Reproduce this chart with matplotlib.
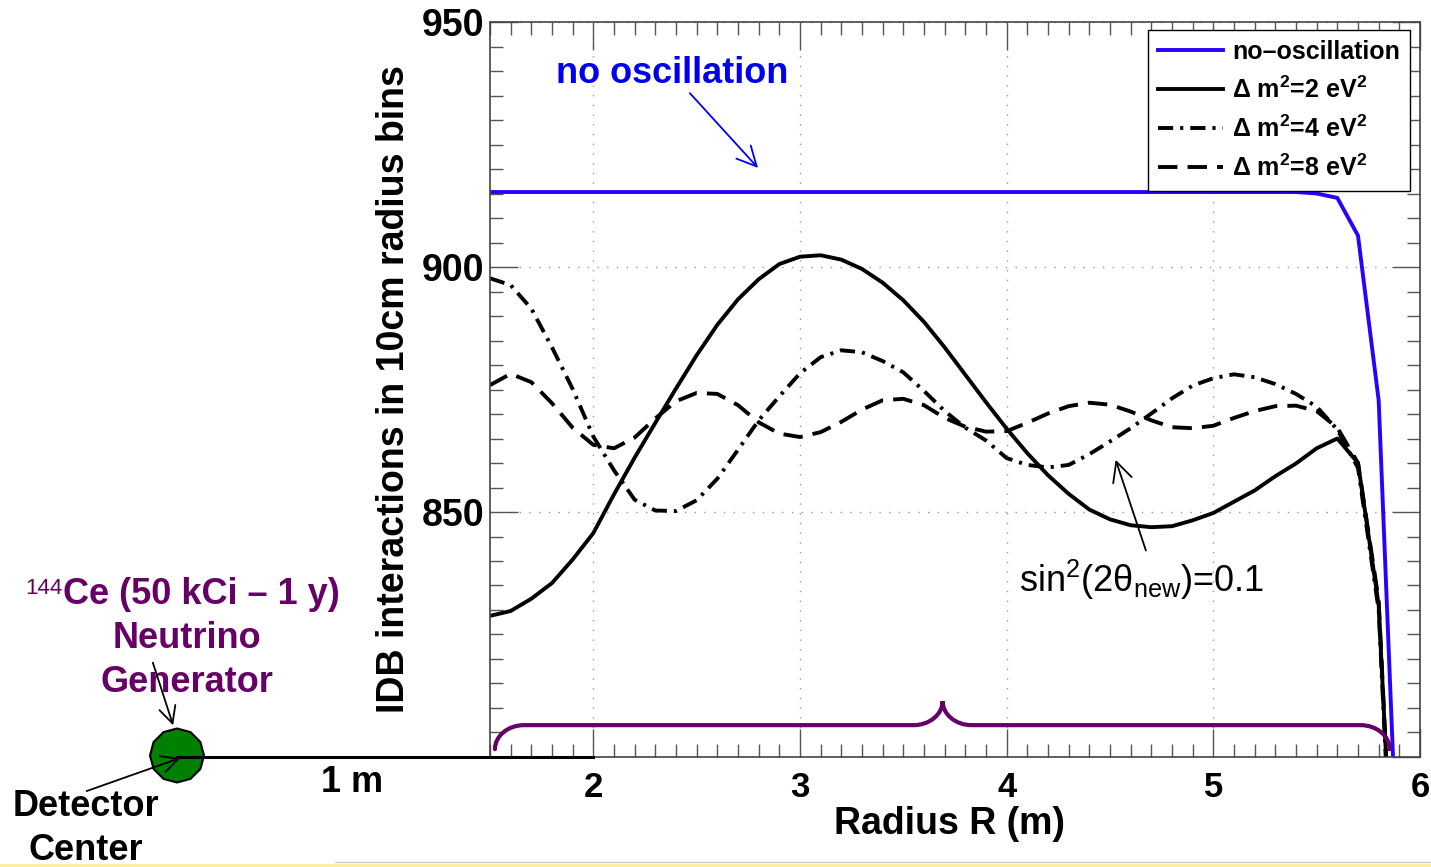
import matplotlib
matplotlib.use('Agg')
import matplotlib.pyplot as plt
from matplotlib.ticker import MultipleLocator
from matplotlib.path import Path
from matplotlib.patches import PathPatch, RegularPolygon, Rectangle

plt.rcParams['font.family'] = ['Liberation Sans', 'DejaVu Sans']
plt.rcParams['mathtext.default'] = 'regular'

# radius bins (m)
radius = [1.5, 1.6, 1.7, 1.8, 1.9, 2.0, 2.1, 2.2, 2.3, 2.4,
          2.5, 2.6, 2.7, 2.8, 2.9, 3.0, 3.1, 3.2, 3.3, 3.4,
          3.5, 3.6, 3.7, 3.8, 3.9, 4.0, 4.1, 4.2, 4.3, 4.4,
          4.5, 4.6, 4.7, 4.8, 4.9, 5.0, 5.1, 5.2, 5.3, 5.4,
          5.5, 5.6, 5.7, 5.8, 5.9]

# no oscillation: flat then falling at the detector edge
radius_noosc = [1.5, 5.4, 5.5, 5.6, 5.7, 5.8, 5.9]
no_osc = [915.3, 915.3, 915.0, 914.1, 906.4, 872.8, 768.0]

dm2_2 = [828.8, 829.8, 832.3, 835.5, 840.3, 845.7, 853.6, 861.1, 868.2, 875.2,
         882.0, 888.2, 893.4, 897.5, 900.6, 902.1, 902.4, 901.5, 899.6, 896.8,
         893.2, 888.8, 883.6, 878.0, 872.4, 867.0, 862.0, 857.5, 853.7, 850.5,
         848.5, 847.3, 846.9, 847.1, 848.3, 849.8, 852.1, 854.4, 857.3, 859.9,
         863.0, 865.0, 860.0, 831.0, 745.0]

dm2_4 = [897.7, 896.3, 891.5, 883.6, 875.1, 865.4, 858.5, 852.5, 850.3, 850.2,
         852.4, 856.8, 862.7, 868.7, 873.6, 878.3, 881.6, 883.0, 882.6, 880.8,
         878.5, 874.7, 870.6, 867.2, 864.6, 861.0, 859.6, 859.1, 859.6, 861.8,
         864.4, 867.1, 870.1, 873.2, 875.8, 877.3, 878.1, 877.5, 876.1, 874.1,
         871.5, 866.8, 859.0, 830.0, 742.0]

dm2_8 = [875.9, 878.2, 876.5, 872.2, 867.2, 863.7, 863.0, 865.2, 869.1, 872.6,
         874.3, 874.1, 871.8, 868.3, 866.0, 865.3, 866.3, 868.4, 870.9, 872.8,
         873.1, 871.8, 869.2, 867.4, 866.4, 866.5, 868.2, 870.1, 871.6, 872.3,
         871.9, 870.5, 868.7, 867.3, 867.1, 867.6, 869.2, 870.6, 871.6, 871.7,
         870.6, 867.2, 860.0, 832.0, 744.0]

labels = ['no\u2013oscillation', r'$\Delta$ m$^2$=2 eV$^2$',
          r'$\Delta$ m$^2$=4 eV$^2$', r'$\Delta$ m$^2$=8 eV$^2$']

BLUE = '#2a00ff'
PURPLE = '#660066'
W, H = 1431, 867

fig = plt.figure(figsize=(W / 100, H / 100), dpi=100)
ax = fig.add_axes([490 / W, 110 / H, 930 / W, 735 / H])

lw = 2.8
ax.plot(radius_noosc, no_osc, color=BLUE, lw=lw, label=labels[0])
ax.plot(radius, dm2_2, color='k', lw=lw, label=labels[1])
ax.plot(radius, dm2_4, color='k', lw=lw, dashes=(3.9, 1.8, 0.8, 1.8), label=labels[2])
ax.plot(radius, dm2_8, color='k', lw=lw, dashes=(5.0, 2.6), label=labels[3])

ax.set_xlim(1.5, 6)
ax.set_ylim(800, 950)
ax.set_xticks([2, 3, 4, 5, 6])
ax.set_yticks([800, 850, 900, 950])
ax.set_yticklabels(['', '850', '900', '950'])
ax.xaxis.set_minor_locator(MultipleLocator(0.1))
ax.yaxis.set_minor_locator(MultipleLocator(5))
ax.tick_params(which='both', direction='in', top=True, right=True,
               color='#555555', width=1)
ax.tick_params(which='major', length=20)
ax.tick_params(which='minor', length=9.5)
ax.tick_params(axis='x', labelsize=25, pad=10)
ax.tick_params(axis='y', labelsize=27, pad=4)
for lab in ax.get_xticklabels() + ax.get_yticklabels():
    lab.set_fontweight('bold')
for sp in ax.spines.values():
    sp.set_color('#444444')
    sp.set_linewidth(1.2)
ax.grid(True, which='major', color='#999999', linestyle=(0, (1, 6)), lw=1)

ax.set_xlabel('Radius R (m)', fontsize=27, fontweight='bold')
ax.xaxis.set_label_coords(0.4946, -0.066)
ax.set_ylabel('IDB interactions in 10cm radius bins', fontsize=27, fontweight='bold')
ax.yaxis.set_label_coords(-0.084, 0.5)

leg = ax.legend(loc='upper right', bbox_to_anchor=(0.989, 0.989), borderaxespad=0,
                prop={'weight': 'bold', 'size': 18}, fancybox=False,
                edgecolor='k', framealpha=1, handlelength=2.6,
                handletextpad=0.35, labelspacing=0.5, borderpad=0.4)
leg.get_frame().set_linewidth(1)

# annotations inside the plot
ax.text(2.38, 939.5, 'no oscillation', color='#0000ee', fontsize=26,
        fontweight='bold', ha='center', va='center')
ax.annotate('', xy=(2.806, 919.8), xytext=(2.458, 935.9),
            arrowprops=dict(arrowstyle='->', color='#0000ee', lw=1.3, mutation_scale=35))
ax.text(4.653, 836.1, r'sin$^2$(2θ$_{new}$)=0.1', fontsize=26, ha='center', va='center')
ax.annotate('', xy=(4.523, 861.2), xytext=(4.678, 841.6),
            arrowprops=dict(arrowstyle='->', color='k', lw=1.3, mutation_scale=35))

# purple brace spanning the fiducial radius range
bx0, bx1, bmid = 1.524, 5.853, 3.69
by, bend, btip = 806.5, 801.6, 811.4
rx = 0.14
k = 0.55
verts = [(bx0, bend),
         (bx0, bend + k * (by - bend)), (bx0 + rx - k * rx, by), (bx0 + rx, by),
         (bmid - rx, by),
         (bmid - rx + k * rx, by), (bmid, btip - k * (btip - by)), (bmid, btip),
         (bmid, btip - k * (btip - by)), (bmid + rx - k * rx, by), (bmid + rx, by),
         (bx1 - rx, by),
         (bx1 - rx + k * rx, by), (bx1, bend + k * (by - bend)), (bx1, bend)]
codes = [Path.MOVETO, Path.CURVE4, Path.CURVE4, Path.CURVE4, Path.LINETO,
         Path.CURVE4, Path.CURVE4, Path.CURVE4, Path.CURVE4, Path.CURVE4, Path.CURVE4,
         Path.LINETO, Path.CURVE4, Path.CURVE4, Path.CURVE4]
ax.add_patch(PathPatch(Path(verts, codes), facecolor='none', edgecolor=PURPLE,
                       lw=3, capstyle='round', zorder=5))

# overlay in pixel coordinates for the source sketch left of the axes
ov = fig.add_axes([0, 0, 1, 1])
ov.set_xlim(0, W)
ov.set_ylim(H, 0)
ov.axis('off')
ov.patch.set_visible(False)

ov.add_patch(RegularPolygon((177, 755.5), numVertices=12, radius=27,
                            facecolor='#008000', edgecolor='k', lw=1.5, zorder=2))
ov.plot([177, 593], [757, 757], color='k', lw=2.2, zorder=3)
ov.text(352, 782, '1 m', fontsize=26, fontweight='bold', ha='center', va='center')

ov.text(25, 588, '144', color=PURPLE, fontsize=16, ha='left', va='center')
ov.text(63, 595, 'Ce (50 kCi \u2013 1 y)', color=PURPLE, fontsize=26,
        fontweight='bold', ha='left', va='center')
ov.text(187, 638, 'Neutrino', color=PURPLE, fontsize=26, fontweight='bold',
        ha='center', va='center')
ov.text(187, 682, 'Generator', color=PURPLE, fontsize=26, fontweight='bold',
        ha='center', va='center')
ov.annotate('', xy=(174, 728), xytext=(152, 660),
            arrowprops=dict(arrowstyle='->', color='k', lw=1.3, mutation_scale=30))

ov.text(86, 806, 'Detector', fontsize=26, fontweight='bold', ha='center', va='center')
ov.text(86, 850, 'Center', fontsize=26, fontweight='bold', ha='center', va='center')
ov.annotate('', xy=(183, 757), xytext=(84, 792),
            arrowprops=dict(arrowstyle='->', color='k', lw=1.3, mutation_scale=30))

# slide footer strip
ov.plot([335, W], [862, 862], color='#cccccc', lw=1)
ov.add_patch(Rectangle((0, 864), W, 3, facecolor='#fbeea0', edgecolor='none'))

fig.savefig('out.png', dpi=100)
